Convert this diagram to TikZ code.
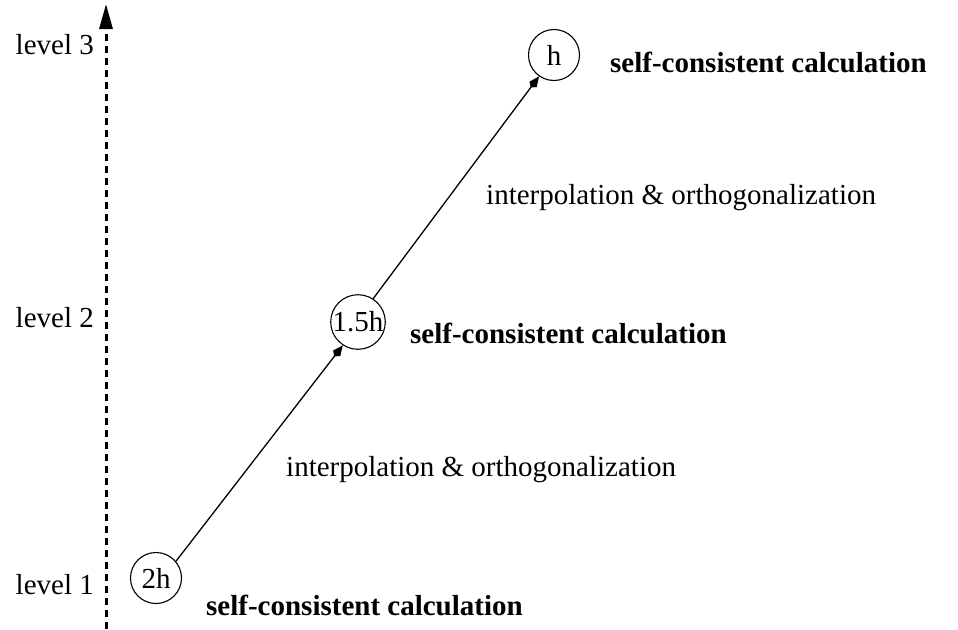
\documentclass[tikz,border=0pt]{standalone}
\usepackage{fontspec}
\setmainfont{Liberation Serif}
\usetikzlibrary{arrows.meta}
\begin{document}
\begin{tikzpicture}[x=1pt,y=-1pt,
  lvl/.style={circle,draw,line width=1.1pt,minimum size=51pt,inner sep=0pt,font=\fontsize{29}{32}\selectfont},
  lbl/.style={inner sep=0pt,font=\fontsize{29}{32}\selectfont},
  blbl/.style={inner sep=0pt,font=\fontsize{29}{32}\selectfont\bfseries,anchor=west},
  conn/.style={line width=1.3pt,-{Kite[length=14pt,width=9pt,inset=4pt]}},
  axis/.style={line width=3pt,dash pattern=on 7pt off 5pt,-{Triangle[length=25pt,width=13pt]}}]
\useasboundingbox (0,0) rectangle (958,629);
\coordinate (ab) at (106,629);
\coordinate (at) at (106,4);
\draw[axis] (ab) -- (at);
\node[lbl,anchor=east] (l3) at (94,45) {level 3};
\node[lbl,anchor=east] (l2) at (94,318) {level 2};
\node[lbl,anchor=east] (l1) at (94,585) {level 1};
\node[lvl] (n2h) at (156,578) {2h};
\node[lvl] (n15h) at (358,322) {1.5h};
\node[lvl] (nh) at (554,55) {h};
\draw[conn] (n2h.40) -- (n15h.237);
\draw[conn] (n15h.57) -- (nh.235);
\node[blbl] (s1) at (206,605) {self-consistent calculation};
\node[blbl] (s2) at (410,333) {self-consistent calculation};
\node[blbl] (s3) at (610,62) {self-consistent calculation};
\node[lbl,anchor=west] (i1) at (286,470) {interpolation \& orthogonalization};
\node[lbl,anchor=west] (i2) at (486,198) {interpolation \& orthogonalization};
\end{tikzpicture}
\end{document}
